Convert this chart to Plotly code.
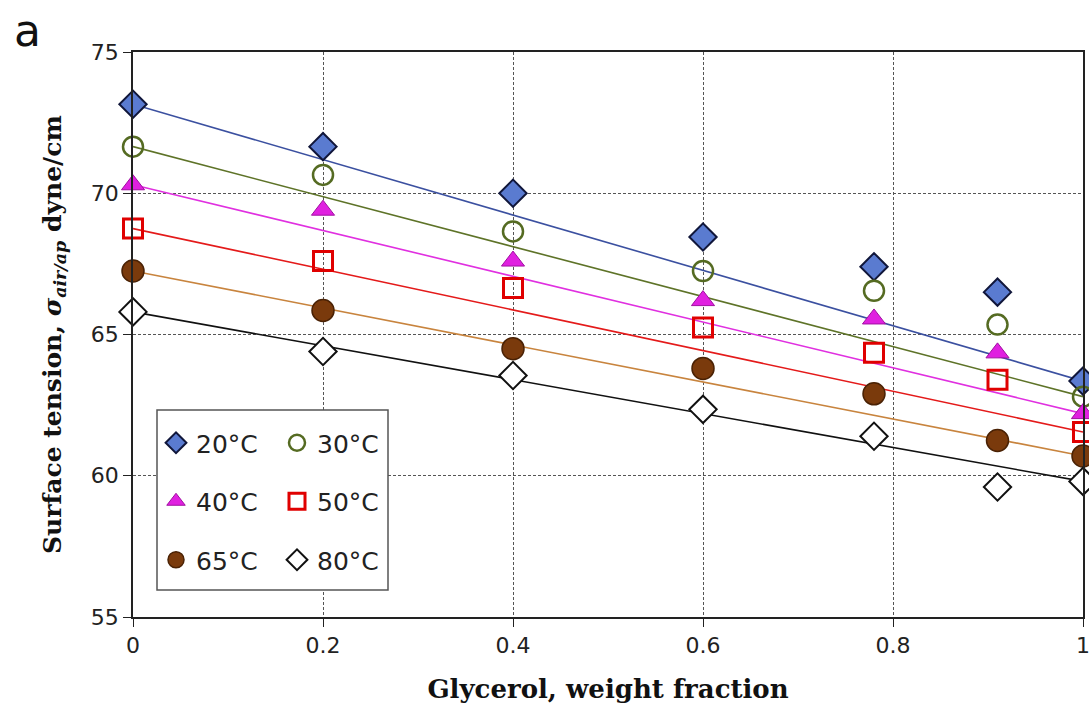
import plotly.graph_objects as go

# ---------------- data ----------------
glycerol = [0.0, 0.2, 0.4, 0.6, 0.78, 0.91, 1.0]
labels = ["20°C", "30°C", "40°C", "50°C", "65°C", "80°C"]
t20 = [73.15, 71.65, 70.0, 68.45, 67.4, 66.5, 63.35]
t30 = [71.65, 70.65, 68.65, 67.25, 66.55, 65.35, 62.8]
t40 = [70.3, 69.4, 67.6, 66.2, 65.55, 64.35, 62.2]
t50 = [68.75, 67.6, 66.65, 65.25, 64.35, 63.4, 61.55]
t65 = [67.25, 65.85, 64.5, 63.8, 62.9, 61.25, 60.7]
t80 = [65.8, 64.4, 63.55, 62.35, 61.4, 59.6, 59.8]
series = [t20, t30, t40, t50, t65, t80]

x_ticks = [0, 0.2, 0.4, 0.6, 0.8, 1]
x_ticktext = ["0", "0.2", "0.4", "0.6", "0.8", "1"]
y_ticks = [55, 60, 65, 70, 75]

# ---------------- styles ----------------
line_colors = ["#3B50A0", "#5E7328", "#E030E0", "#E41A1A", "#C8843E", "#111111"]
markers = [
    dict(symbol="diamond", size=21, color="#5A7BD0", line=dict(color="#10163A", width=2)),
    dict(symbol="circle-open", size=20, color="#556B22", line=dict(color="#556B22", width=2.5)),
    dict(symbol="triangle-up", size=20, color="#E020E0", line=dict(color="#A010A0", width=1)),
    dict(symbol="square-open", size=19, color="#E00000", line=dict(color="#E00000", width=3)),
    dict(symbol="circle", size=22, color="#7A3A0C", line=dict(color="#4A2205", width=1.5)),
    dict(symbol="diamond", size=21, color="white", line=dict(color="#111111", width=2)),
]
legend_of = ["legend", "legend2", "legend", "legend2", "legend", "legend2"]

fig = go.Figure()

# fitted lines (from first to last measurement)
for s, c in zip(series, line_colors):
    fig.add_trace(go.Scatter(
        x=[glycerol[0], glycerol[-1]], y=[s[0], s[-1]], mode="lines",
        line=dict(color=c, width=1.6), showlegend=False, hoverinfo="skip"))

for i, (s, lab) in enumerate(zip(series, labels)):
    fig.add_trace(go.Scatter(
        x=glycerol, y=s, mode="markers", name=lab, marker=markers[i],
        legend=legend_of[i], legendgroup=lab, cliponaxis=False))

L, R, T, B = 133, 6, 52, 91
W, H = 1089, 708
pw, ph = W - L - R, H - T - B

def px(xp):
    return (xp - L) / pw

def py(yp):
    return (H - B - yp) / ph

grid = dict(showgrid=True, gridcolor="#555555", gridwidth=1, griddash="3px,2px")
tickfont = dict(family="DejaVu Sans, sans-serif", size=22, color="#222222")
xtitlefont = dict(family="DejaVu Serif, serif", size=26, color="#111111")
ytitlefont = dict(family="DejaVu Serif, serif", size=25, color="#111111")

legend_common = dict(
    bgcolor="rgba(0,0,0,0)", borderwidth=0, tracegroupgap=23,
    font=dict(family="DejaVu Sans, sans-serif", size=25, color="#222222"),
    yanchor="top", xanchor="left", itemsizing="trace", itemwidth=30,
)

fig.update_layout(
    width=W, height=H,
    margin=dict(l=L, r=R, t=T, b=B, autoexpand=False),
    paper_bgcolor="white", plot_bgcolor="white",
    xaxis=dict(range=[0, 1], tickvals=x_ticks, ticktext=x_ticktext, automargin=False,
               ticklabeloverflow="allow",
               ticks="outside", ticklen=8, tickcolor="#222", tickfont=tickfont,
               showline=True, linecolor="#222", linewidth=1.5, mirror=True,
               zeroline=False, **grid,
               title=dict(text="<b>Glycerol, weight fraction</b>", font=xtitlefont, standoff=23)),
    yaxis=dict(range=[55, 75], tickvals=y_ticks, ticks="outside", ticklen=8, automargin=False,
               ticklabeloverflow="allow",
               tickcolor="#222", tickfont=tickfont,
               showline=True, linecolor="#222", linewidth=1.5, mirror=True,
               zeroline=False, **grid,
               title=dict(text="<b>Surface tension, <i>σ</i><sub><i>air/ap</i></sub> dyne/cm</b>",
                          font=ytitlefont, standoff=22)),
    legend=dict(x=px(156), y=py(420), **legend_common),
    legend2=dict(x=px(277), y=py(420), **legend_common),
    shapes=[dict(type="rect", xref="paper", yref="paper",
                 x0=px(157), x1=px(388), y0=py(590), y1=py(410),
                 line=dict(color="#555555", width=1.5), fillcolor="white", layer="above")],
    annotations=[dict(text="a", xref="paper", yref="paper", x=px(27), y=py(30),
                      xanchor="center", yanchor="middle", showarrow=False,
                      font=dict(family="DejaVu Sans, sans-serif", size=44, color="#111"))],
    showlegend=True,
)

fig.write_html("out.html")
